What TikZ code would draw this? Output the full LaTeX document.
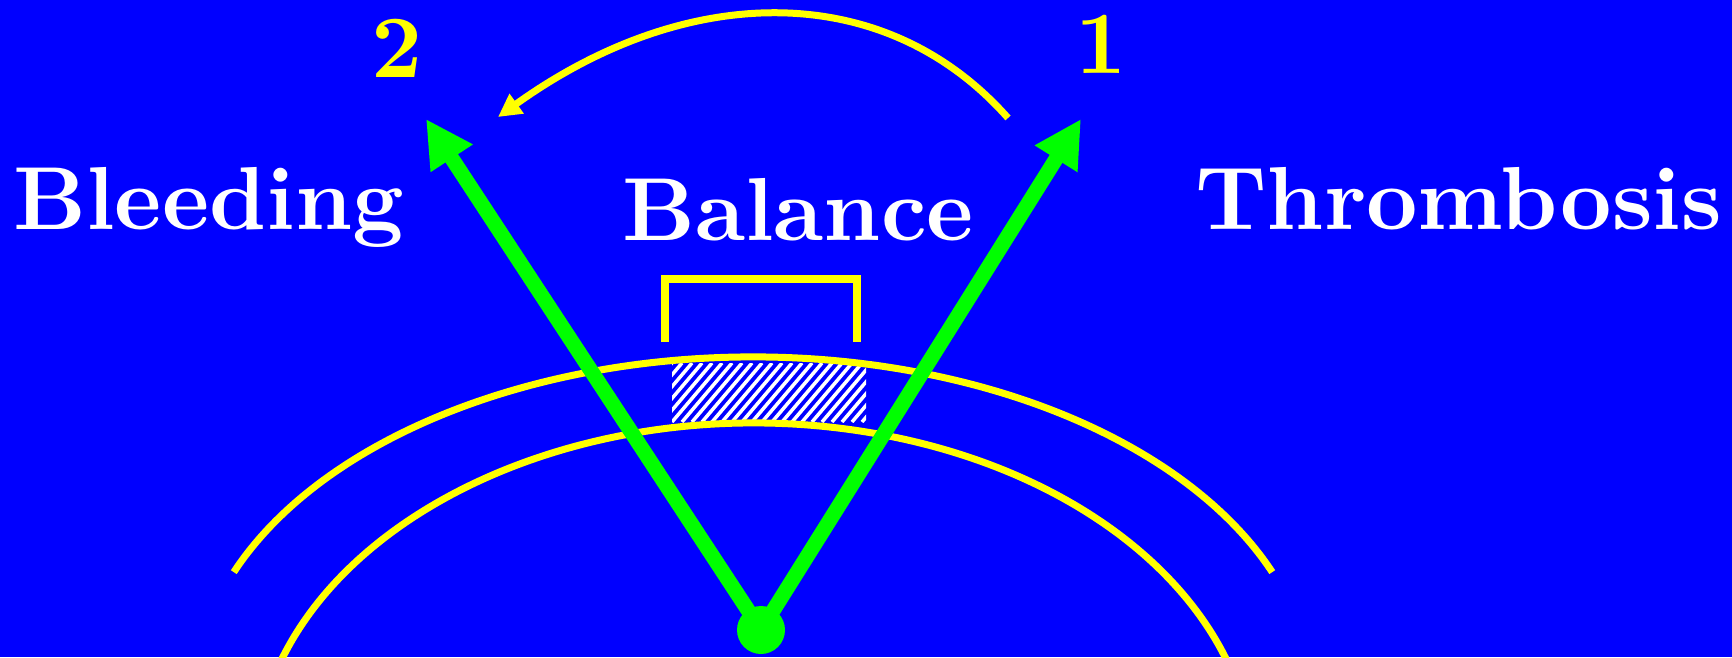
\documentclass[tikz,border=0pt]{standalone}
\usepackage{fontspec}
\newfontfamily\slideface{lmroman10-bold.otf}
\usetikzlibrary{arrows.meta}
\definecolor{slideblue}{RGB}{0,0,255}
\definecolor{tipgreen}{RGB}{0,255,0}
\definecolor{markyellow}{RGB}{255,255,0}
\tikzset{
  bigword/.style={white, font=\slideface\fontsize{89.5}{100}\selectfont, inner sep=0pt},
  stepnum/.style={markyellow, font=\slideface\fontsize{89}{100}\selectfont, inner sep=0pt},
  swing/.style={tipgreen, line width=15pt, -{Triangle[length=47pt,width=47pt]}},
  rim/.style={markyellow, line width=7pt},
}
\begin{document}
\begin{tikzpicture}[x=1pt, y=1pt]
\useasboundingbox (0,0) rectangle (1732,657);
\fill[slideblue] (0,0) rectangle (1732,657);
\begin{scope}
\clip (0,0) rectangle (1732,657);
\begin{scope}
\clip (672,235) rectangle (866,294);
\foreach \k in {0,...,26}
  \draw[white, line width=3.5pt] (622+10*\k,235) -- ++(50,59);
\end{scope}
\draw[rim] (753,-44) ++(158:560 and 344) arc[start angle=158, end angle=22, x radius=560, y radius=344];
\draw[rim] (754,-118) ++(166:500 and 352) arc[start angle=166, end angle=14, x radius=500, y radius=352];
\draw[markyellow, line width=7.5pt] (665,315) -- (665,378) -- (857,378) -- (857,315);
\coordinate (hub) at (761,27);
\coordinate (tipbleed) at (426,538);
\coordinate (tipthromb) at (1081,538);
\draw[swing] (hub) -- (tipbleed);
\draw[swing] (hub) -- (tipthromb);
\node[circle, fill=tipgreen, minimum size=48pt, inner sep=0pt] (pivot) at (hub) {};
\coordinate (swingstart) at (1008,539);
\coordinate (swingend) at (498,540);
\draw[markyellow, line width=7pt, -{Triangle[length=23pt,width=23pt]}] (swingstart) .. controls (886,677) and (689,677) .. (swingend);
\end{scope}
\node[bigword, anchor=base west] (bleeding) at (13,427) {Bleeding};
\node[bigword, anchor=base] (balance) at (798,416) {Balance};
\node[bigword, anchor=base west] (thrombosis) at (1195,427) {Thrombosis};
\node[stepnum, anchor=base] (two) at (397,579) {2};
\node[stepnum, anchor=base] (one) at (1101,583) {1};
\end{tikzpicture}
\end{document}
